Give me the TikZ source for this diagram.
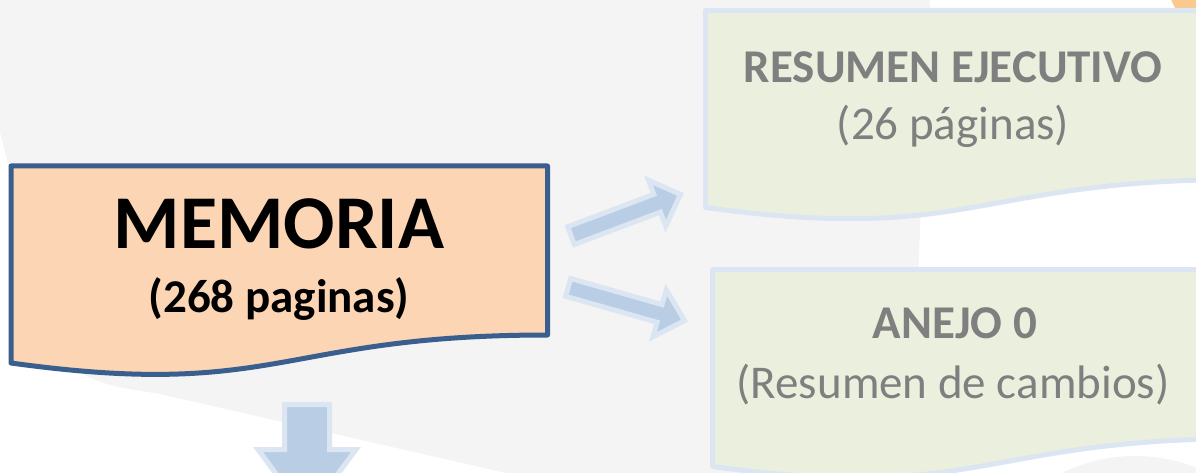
\documentclass[tikz,border=0pt]{standalone}
\usepackage{fontspec}
\setmainfont{Carlito}
\definecolor{bggray}{HTML}{F4F4F4}
\definecolor{memfill}{HTML}{FCD5B5}
\definecolor{memdraw}{HTML}{3A5F8E}
\definecolor{grfill}{HTML}{EBF0DE}
\definecolor{lightblue}{HTML}{DCE6F2}
\definecolor{arrfill}{HTML}{B9CDE5}
\definecolor{txtgray}{HTML}{7F7F7F}
\definecolor{orng}{HTML}{FAC98D}
\tikzset{
  docbox/.style={line width=5pt, line join=round},
  membox/.style={docbox, draw=memdraw, fill=memfill},
  grbox/.style={docbox, draw=lightblue, fill=grfill},
  barrow/.style={line width=5pt, draw=lightblue, fill=arrfill, line join=miter},
  bigtxt/.style={anchor=base, inner sep=0pt, font=\fontsize{76}{80}\selectfont\bfseries},
  midtxt/.style={anchor=base, inner sep=0pt, font=\fontsize{47}{50}\selectfont\bfseries},
  grbold/.style={anchor=base, inner sep=0pt, text=txtgray, font=\fontsize{47}{50}\selectfont\bfseries},
  grreg/.style={anchor=base, inner sep=0pt, text=txtgray, font=\fontsize{47}{50}\selectfont},
}
\begin{document}
\begin{tikzpicture}[x=1pt,y=-1pt]
\useasboundingbox (0,0) rectangle (1196,473);
\fill[white] (0,0) rectangle (1196,473);
% background shapes
\fill[bggray] (0,-5) -- (930,-5) -- (917,300) -- (917,540) -- (800,540) -- (160,394)
  .. controls (120,387) and (65,385) .. (50,330) -- (0,132) -- cycle;
\fill[bggray] (1135,621) circle (165);
\fill[orng] (1240,-30) circle (75);
% MEMORIA document shape
\draw[membox] (11,166) -- (547.5,166) -- (547.5,335)
  .. controls (279,335) and (279,400) .. (11,363) -- cycle;
\node[bigtxt] (mem) at (279,248) {MEMORIA};
\node[midtxt] (memp) at (279,312) {(268 paginas)};
% green box 1
\draw[grbox] (705.5,10.5) -- (1242,10.5) -- (1242,179.5)
  .. controls (974,179.5) and (974,244) .. (705.5,207.5) -- cycle;
\node[grbold] (res) at (953,83) {RESUMEN EJECUTIVO};
\node[grreg] (resp) at (953,140) {(26 páginas)};
% green box 2
\draw[grbox] (712.5,269.5) -- (1249,269.5) -- (1249,438.5)
  .. controls (981,438.5) and (981,503) .. (712.5,466.5) -- cycle;
\node[grbold] (anj) at (955,338) {ANEJO 0};
\node[grreg] (anjp) at (953,398) {(Resumen de cambios)};
% block arrows
\begin{scope}[shift={(571,235.6)}, rotate=20.6]
  \draw[barrow] (0,9.5) -- (92,9.5) -- (92,24.5) -- (117,0) -- (92,-24.5) -- (92,-9.5) -- (0,-9.5) -- cycle;
\end{scope}
\begin{scope}[shift={(568.2,287.4)}, rotate=-15.9]
  \draw[barrow] (0,9.2) -- (95,9.2) -- (95,24.5) -- (121,0) -- (95,-24.5) -- (95,-9.2) -- (0,-9.2) -- cycle;
\end{scope}
\begin{scope}[shift={(307,404.5)}, rotate=-90]
  \draw[barrow] (0,22.5) -- (45,22.5) -- (45,49) -- (111,0) -- (45,-49) -- (45,-22.5) -- (0,-22.5) -- cycle;
\end{scope}
\end{tikzpicture}
\end{document}
